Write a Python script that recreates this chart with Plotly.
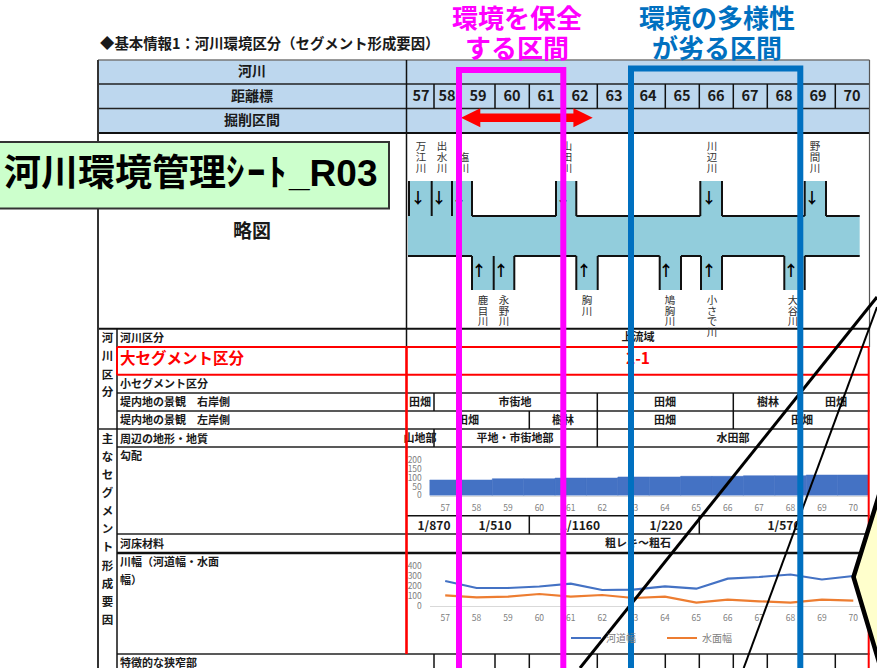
import plotly.graph_objects as go

FONT = "Noto Sans CJK JP"
W, H = 877, 668

# chart data
km_labels = [str(k) for k in range(57, 71)]
gradient_values = [87, 87, 94, 94, 98, 98, 104, 104, 108, 108, 111, 111, 115, 115]
channel_width = [250, 180, 180, 195, 223, 160, 163, 197, 173, 273, 290, 315, 265, 300]
water_width = [107, 87, 93, 120, 93, 110, 80, 93, 33, 63, 47, 33, 63, 53]

# table text
km_centers = [421, 447, 478, 512, 546, 580, 614, 648, 682, 716, 750, 784, 818, 852]
km_edges = [406.5, 434, 461, 495, 529.3, 563.3, 597.3, 631.3, 665.3, 699.3, 733.3, 767.3, 801.3, 835.3, 869.5]

row_labels = ["河川区分", "小セグメント区分", "堤内地の景観　右岸側", "堤内地の景観　左岸側", "周辺の地形・地質",
              "勾配", "河床材料", "川幅（河道幅・水面", "幅）", "特徴的な狭窄部"]
row_label_y = [338, 384, 402, 420, 439, 456, 544, 562, 580, 663]

group_labels = ["河", "川", "区", "分", "主", "な", "セ", "グ", "メ", "ン", "ト", "形", "成", "要", "因"]
group_label_y = [338, 356, 375, 392, 439, 457, 475, 493, 511, 529, 547, 566, 584, 602, 620]

cell_labels = ["上流域", "田畑", "市街地", "田畑", "樹林", "田畑", "田畑", "樹林", "田畑", "田畑", "山地部",
               "平地・市街地部", "水田部", "粗レキ～粗石"]
cell_x = [638, 420, 515, 665, 768, 836, 468, 563, 665, 802, 420, 515, 733, 638]
cell_y = [337, 402, 402, 402, 402, 402, 420, 420, 420, 420, 438, 438, 438, 543]

slope_labels = ["1/870", "1/510", "1/1160", "1/220", "1/570"]
slope_x = [434, 495, 580, 666, 784]

top_rivers = ["万江川", "出水川", "塩川", "山田川", "川辺川", "野間川"]
top_river_x = [421, 442, 464, 567, 712, 815]
top_arrow_x = [418, 439, 459, 563, 709, 812]
bottom_rivers = ["鹿目川", "永野川", "胸川", "鳩胸川", "小さで川", "大谷川"]
bottom_river_x = [483, 504, 587, 670, 712, 793]
bottom_arrow_x = [479, 501, 584, 666, 709, 791]

BLACK = "#111111"
RED = "#FF0000"
shapes = []


def line(x0, y0, x1, y1, color=BLACK, width=1.5, layer="below"):
    shapes.append(dict(type="line", xref="x", yref="y", x0=x0, y0=y0, x1=x1, y1=y1,
                       line=dict(color=color, width=width), layer=layer))


def rect(x0, y0, x1, y1, fill, color=None, width=0, layer="below"):
    shapes.append(dict(type="rect", xref="x", yref="y", x0=x0, y0=y0, x1=x1, y1=y1, fillcolor=fill,
                       line=dict(color=color or fill, width=width), layer=layer))


def path(d, color, width, fill=None, layer="above"):
    shapes.append(dict(type="path", xref="x", yref="y", path=d, fillcolor=fill or "rgba(0,0,0,0)",
                       line=dict(color=color, width=width), layer=layer))


# header band
rect(98, 60, 869.5, 133, "#BDD7EE")
# river sketch fill
rect(408, 216, 859.7, 256, "#92CDDC")
rect(409, 181, 472, 216, "#92CDDC")
rect(556, 181, 576.3, 216, "#92CDDC")
rect(700.3, 181, 722, 216, "#92CDDC")
rect(804.7, 181, 826, 216, "#92CDDC")
rect(472, 256, 514.3, 290, "#92CDDC")
rect(576.3, 256, 597.7, 290, "#92CDDC")
rect(659.7, 256, 681, 290, "#92CDDC")
rect(701, 256, 722, 290, "#92CDDC")
rect(784.3, 256, 804.7, 290, "#92CDDC")

# river outlines
for x in [409, 431.7, 452, 472, 556, 576.3, 700.3, 722, 804.7, 826]:
    line(x, 181, x, 216, width=2)
for x in [472, 493.7, 514.3, 576.3, 597.7, 659.7, 681, 701, 722, 784.3, 804.7]:
    line(x, 256, x, 290, width=2)
for x0, x1 in [(472, 556), (576.3, 700.3), (722, 804.7), (826, 859.7)]:
    line(x0, 216, x1, 216, width=2)
for x0, x1 in [(408, 472), (514.3, 576.3), (597.7, 659.7), (681, 701), (722, 784.3), (804.7, 859.7)]:
    line(x0, 256, x1, 256, width=2)

# table grid, horizontal
line(98, 60, 869.5, 60, color="#777777")
for y in [84, 108.5]:
    line(98, y, 869.5, y, color="#222222")
line(98, 133, 869.5, 133, width=2)
line(98, 328.7, 869.5, 328.7, width=2)
for y in [393, 411, 447, 534, 654]:
    line(117, y, 869.5, y, color="#222222")
line(98, 429, 869.5, 429, color="#222222")
line(117, 553, 869.5, 553, width=2.5)
line(406.5, 515.7, 869.5, 515.7)

# table grid, vertical
line(98, 60, 98, 668, color="#333333", width=2)
line(117, 328.7, 117, 668)
line(406.5, 60, 406.5, 347)
line(869.5, 60, 869.5, 347, color="#555555", width=1.2)
for x in km_edges[1:-1]:
    line(x, 84, x, 108.5)
    line(x, 654, x, 668)
for x in [434, 597.3, 733.3, 801.3]:
    line(x, 393, x, 411)
for x in [529.3, 597.3, 733.3]:
    line(x, 411, x, 429)
for x in [434, 597.3]:
    line(x, 429, x, 447)
for x in [461, 529.3, 631.3, 699.3]:
    line(x, 515.7, x, 534)

# red frame
line(117, 347, 869, 347, color=RED, width=2, layer="above")
line(117, 374.7, 869, 374.7, color=RED, width=2, layer="above")
line(117, 347, 117, 374.7, color=RED, width=2, layer="above")
line(406.5, 347, 406.5, 654, color=RED, width=2.6, layer="above")
line(868.7, 347, 868.7, 668, color=RED, width=2, layer="above")

# callout leader lines and callout
line(877, 297, 580, 668, color="#000000", width=3, layer="above")
line(877, 307, 743.7, 668, color="#000000", width=2, layer="above")
path("M 890,460 L 853.5,577 L 885,682 Z", "#000000", 4.5, fill="#FFFFCC")

# double arrow
path("M 461,117.7 L 480.3,108.2 L 480.3,113.4 L 573.4,113.4 L 573.4,108.2 L 592.7,117.7 "
     "L 573.4,127.2 L 573.4,122 L 480.3,122 L 480.3,127.2 Z", RED, 0, fill=RED)

# section frames
path("M 459,700 L 459,70 L 563.3,70 L 563.3,700", "#FF00FF", 6)
path("M 631,700 L 631,68.5 L 800.3,68.5 L 800.3,700", "#0070C0", 6)

# title box
rect(-6, 142, 389, 208.5, "#CCFFCC", color="#333333", width=2, layer="above")

fig = go.Figure()


def add_text(labels, xs, ys, size, color="#1A1A1A", bold=True, position="middle center"):
    # the font sits a little high in its box, so push the text down to the row centre
    fig.add_trace(go.Scatter(
        x=xs, y=[y + 1.5 for y in ys], text=labels, mode="text", textposition=position,
        textfont=dict(family=FONT, size=size, color=color, weight=700 if bold else 400),
        hoverinfo="skip", showlegend=False, xaxis="x", yaxis="y",
    ))


# table text
add_text(["◆基本情報1：河川環境区分（セグメント形成要因）"], [100], [44], 14.4, position="middle right")
add_text(["河川", "距離標", "掘削区間"], [252, 252, 252], [71, 96, 120], 14)
add_text(km_labels, km_centers, [96] * len(km_labels), 14.5)
add_text(["略図"], [252], [232], 19)
add_text(row_labels, [120] * len(row_labels), row_label_y, 11, position="middle right")
add_text(["大セグメント区分"], [120], [359], 15.5, color=RED, position="middle right")
add_text(group_labels, [107.5] * len(group_labels), group_label_y, 11.5)
add_text(cell_labels, cell_x, cell_y, 11)
add_text(slope_labels, slope_x, [525] * len(slope_labels), 12)
add_text(["2-1"], [638], [359], 15.5, color=RED)

# tributaries, one character per line
for name, x in zip(top_rivers, top_river_x):
    chars = list(name)
    add_text(chars, [x] * len(chars), [167.5 - 10.7 * (len(chars) - 1 - i) for i in range(len(chars))], 10.5,
             color="#333333", bold=False)
for name, x in zip(bottom_rivers, bottom_river_x):
    chars = list(name)
    add_text(chars, [x] * len(chars), [300.2 + 10.4 * i for i in range(len(chars))], 10.5,
             color="#333333", bold=False)
add_text(["↓"] * len(top_arrow_x), top_arrow_x, [197.5] * len(top_arrow_x), 15, color="#000000")
add_text(["↑"] * len(bottom_arrow_x), bottom_arrow_x, [270.5] * len(bottom_arrow_x), 15, color="#000000")

# gradient chart
fig.add_trace(go.Bar(x=km_labels, y=gradient_values, marker=dict(color="#4472C4", line=dict(width=0.6, color="#4472C4")),
                     width=1, showlegend=False, hoverinfo="skip", xaxis="x2", yaxis="y2"))

# river width chart
fig.add_trace(go.Scatter(x=km_labels, y=channel_width, mode="lines", name="河道幅",
                         line=dict(color="#4472C4", width=2.2), xaxis="x3", yaxis="y3"))
fig.add_trace(go.Scatter(x=km_labels, y=water_width, mode="lines", name="水面幅",
                         line=dict(color="#ED7D31", width=2.2), xaxis="x3", yaxis="y3"))


def xdom(a, b):
    return [a / W, b / W]


def ydom(top, bottom):
    return [1 - bottom / H, 1 - top / H]


GREY = "#808080"
tick = dict(family=FONT, size=8.5, color=GREY)
x_common = dict(type="category", range=[-0.5, 13.5], domain=xdom(429.5, 869), tickfont=tick, ticks="outside",
                ticklen=4, tickcolor="rgba(0,0,0,0)", showgrid=False, zeroline=False, showline=True,
                linecolor="#D9D9D9", linewidth=1, tickangle=0)
y_common = dict(tickfont=tick, ticks="outside", ticklen=5, tickcolor="rgba(0,0,0,0)", showgrid=False,
                zeroline=False, showline=False)

HEAD_FONT = dict(family=FONT, size=26, weight=700)

fig.update_layout(
    width=W, height=H, margin=dict(l=0, r=0, t=0, b=0, autoexpand=False), autosize=False,
    paper_bgcolor="white", plot_bgcolor="rgba(0,0,0,0)",
    xaxis=dict(range=[0, W], domain=[0, 1], visible=False, fixedrange=True),
    yaxis=dict(range=[H, 0], domain=[0, 1], visible=False, fixedrange=True),
    xaxis2=dict(x_common, anchor="y2"),
    yaxis2=dict(y_common, anchor="x2", domain=ydom(460, 495.5), range=[0, 200], tickvals=[0, 50, 100, 150, 200]),
    xaxis3=dict(x_common, anchor="y3"),
    yaxis3=dict(y_common, anchor="x3", domain=ydom(566, 606), range=[0, 400], tickvals=[0, 100, 200, 300, 400]),
    shapes=shapes,
    showlegend=True,
    legend=dict(orientation="h", x=566 / W, xanchor="left", y=1 - 638 / H, yanchor="middle",
                font=dict(family=FONT, size=10, color=GREY), bgcolor="rgba(0,0,0,0)",
                entrywidth=51, entrywidthmode="pixels", itemwidth=30, itemclick=False, itemdoubleclick=False),
    annotations=[
        dict(xref="x", yref="y", x=2, y=173, xanchor="left", yanchor="middle", showarrow=False,
             text="河川環境管理<span style=\"letter-spacing:2.5px\">ｼｰﾄ</span>_R03",
             font=dict(family="Liberation Sans, " + FONT, size=37, color="#000000", weight=700)),
        dict(xref="x", yref="y", x=517, y=16, showarrow=False, text="環境を保全", font=dict(HEAD_FONT, color="#FF00FF")),
        dict(xref="x", yref="y", x=517, y=46, showarrow=False, text="する区間", font=dict(HEAD_FONT, color="#FF00FF")),
        dict(xref="x", yref="y", x=716.5, y=16, showarrow=False, text="環境の多様性", font=dict(HEAD_FONT, color="#0070C0")),
        dict(xref="x", yref="y", x=716.5, y=46, showarrow=False, text="が劣る区間", font=dict(HEAD_FONT, color="#0070C0")),
    ],
)

fig.write_html("out.html", config={"displayModeBar": False},
               post_script="document.body.style.margin='0';document.body.style.overflow='hidden';")
